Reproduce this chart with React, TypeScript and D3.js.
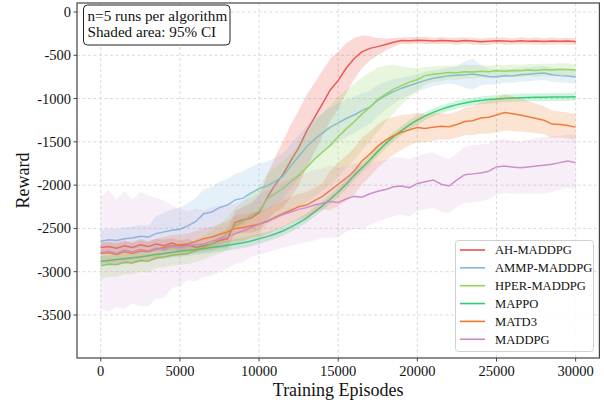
import React from "react";
import * as d3 from "d3";

const episodes: number[] = d3.range(0, 30001, 500);
const xTicks = [0, 5000, 10000, 15000, 20000, 25000, 30000];
const yTicks = [0, -500, -1000, -1500, -2000, -2500, -3000, -3500];
const seriesNames = ["AH-MADDPG", "AMMP-MADDPG", "HPER-MADDPG", "MAPPO", "MATD3", "MADDPG"];
const seriesColors = ["#e8534a", "#82b6e0", "#93d35a", "#2ecc71", "#f0762f", "#c98ac9"];

const ahMean = [-2720,-2710,-2730,-2700,-2720,-2690,-2710,-2680,-2700,-2670,-2700,-2690,-2720,-2700,-2680,-2640,-2620,-2430,-2400,-2380,-2320,-2150,-2000,-1880,-1720,-1570,-1380,-1220,-1060,-900,-790,-650,-540,-460,-420,-400,-375,-350,-330,-332,-325,-330,-335,-328,-332,-338,-330,-336,-345,-338,-332,-335,-340,-333,-337,-335,-340,-334,-338,-336,-340];
const ahCI = [60,60,70,60,60,70,60,60,70,60,60,70,60,70,80,90,110,130,150,170,200,260,320,380,420,430,420,400,380,360,330,290,240,190,140,100,70,50,35,40,35,40,35,40,35,40,35,40,35,40,35,40,35,40,35,40,35,40,35,40,35];

const ammpMean = [-2650,-2630,-2640,-2620,-2610,-2590,-2600,-2560,-2540,-2520,-2510,-2470,-2420,-2330,-2310,-2260,-2230,-2170,-2150,-2090,-2040,-2010,-1960,-1900,-1780,-1670,-1560,-1470,-1400,-1330,-1280,-1230,-1190,-1140,-1100,-1020,-965,-920,-880,-850,-820,-790,-765,-750,-735,-730,-725,-715,-730,-745,-750,-735,-740,-725,-720,-710,-705,-725,-735,-740,-750];
const ammpCI = [130,130,130,130,130,130,130,200,220,240,250,260,270,280,290,300,300,300,310,300,290,280,270,260,250,250,240,240,230,230,220,220,210,200,190,180,160,140,120,110,100,100,90,90,90,110,150,180,120,90,90,80,80,80,80,80,80,80,80,80,80];

const hperMean = [-2930,-2910,-2920,-2890,-2900,-2870,-2880,-2840,-2830,-2810,-2800,-2790,-2760,-2720,-2680,-2620,-2560,-2470,-2420,-2350,-2300,-2160,-2100,-2040,-1960,-1890,-1800,-1700,-1620,-1540,-1440,-1350,-1270,-1180,-1100,-1010,-950,-890,-850,-810,-780,-735,-720,-710,-700,-702,-690,-692,-685,-690,-680,-685,-675,-680,-670,-675,-665,-670,-660,-665,-670];
const hperCI = [150,150,140,140,130,130,130,120,120,120,120,120,130,140,150,170,190,210,230,250,270,290,300,310,320,350,400,430,450,460,460,450,440,420,400,370,330,280,220,170,130,100,90,90,80,80,80,80,70,70,70,70,70,70,70,70,70,70,70,70,70];

const mappoMean = [-2880,-2870,-2860,-2850,-2840,-2830,-2815,-2800,-2790,-2775,-2765,-2755,-2745,-2735,-2720,-2710,-2695,-2680,-2665,-2645,-2620,-2595,-2565,-2530,-2485,-2435,-2380,-2310,-2240,-2160,-2080,-1990,-1890,-1800,-1710,-1610,-1520,-1440,-1370,-1305,-1250,-1200,-1160,-1125,-1095,-1070,-1050,-1035,-1022,-1012,-1004,-998,-993,-990,-988,-986,-984,-983,-982,-981,-980];
const mappoCI = [60,60,60,60,60,60,60,60,60,60,60,60,60,60,60,60,60,60,60,60,60,55,55,55,55,55,55,55,55,55,55,55,55,55,55,55,55,55,55,55,55,45,45,45,45,45,45,45,45,45,45,45,45,45,45,45,45,45,45,45,45];

const matd3Mean = [-2790,-2780,-2800,-2770,-2790,-2760,-2770,-2740,-2720,-2700,-2690,-2680,-2650,-2620,-2600,-2570,-2540,-2500,-2490,-2470,-2450,-2420,-2370,-2330,-2290,-2250,-2230,-2180,-2130,-2060,-1990,-1920,-1840,-1720,-1640,-1550,-1480,-1430,-1390,-1360,-1335,-1345,-1330,-1320,-1325,-1300,-1265,-1255,-1225,-1215,-1190,-1160,-1175,-1190,-1210,-1230,-1250,-1295,-1300,-1310,-1330];
const matd3CI = [120,120,120,120,120,120,120,120,120,120,120,120,120,120,120,120,120,150,150,150,150,150,150,150,150,150,150,150,150,230,250,260,270,270,260,250,240,220,200,180,170,160,160,150,150,150,160,170,180,190,200,210,200,190,180,170,160,160,150,150,150];

const maddpgMean = [-2780,-2760,-2790,-2750,-2770,-2740,-2760,-2730,-2740,-2710,-2720,-2700,-2690,-2680,-2650,-2620,-2600,-2560,-2530,-2490,-2450,-2420,-2380,-2340,-2310,-2280,-2260,-2230,-2210,-2190,-2200,-2160,-2130,-2140,-2100,-2070,-2050,-2020,-2010,-2030,-1980,-1960,-1940,-1990,-2010,-1940,-1880,-1870,-1860,-1840,-1790,-1780,-1790,-1800,-1790,-1780,-1770,-1760,-1740,-1720,-1740];
const maddpgCI = [650,700,620,680,600,660,640,580,560,480,440,400,420,380,400,380,360,350,360,340,350,360,370,380,390,400,400,410,400,420,400,380,380,370,360,350,340,340,330,330,320,320,320,320,310,310,320,330,330,320,320,310,310,300,310,320,330,320,310,310,320];

const means = [ahMean, ammpMean, hperMean, mappoMean, matd3Mean, maddpgMean];
const cis = [ahCI, ammpCI, hperCI, mappoCI, matd3CI, maddpgCI];
const fillOpacities = [0.22, 0.2, 0.2, 0.22, 0.2, 0.15];

const W = 604, H = 403;
const M = { left: 77, right: 599.4, top: 3, bottom: 358 };
const FONT = "'Liberation Serif', 'Times New Roman', serif";

export default function App() {
  const x = d3.scaleLinear().domain([-1500, 31500]).range([M.left, M.right]);
  const y = d3.scaleLinear().domain([-3997, 104]).range([M.bottom, M.top]);

  const line = d3.line<number>().x((_, i) => x(episodes[i])).y((d) => y(d));

  return (
    <div>
      <style>{"body{margin:0}"}</style>
      <svg width={W} height={H} style={{ display: "block", background: "#fff" }} fontFamily={FONT}>
        <defs>
          <clipPath id="plotclip">
            <rect x={M.left} y={M.top} width={M.right - M.left} height={M.bottom - M.top} />
          </clipPath>
        </defs>
        {xTicks.map((t) => (
          <line key={"gx" + t} x1={x(t)} x2={x(t)} y1={M.top} y2={M.bottom} stroke="#d0d0d0" strokeWidth={0.8} strokeDasharray="3,2.5" />
        ))}
        {yTicks.map((t) => (
          <line key={"gy" + t} x1={M.left} x2={M.right} y1={y(t)} y2={y(t)} stroke="#d0d0d0" strokeWidth={0.8} strokeDasharray="3,2.5" />
        ))}
        <g clipPath="url(#plotclip)">
          {means.map((m, si) => {
            const ci = cis[si];
            const area = d3
              .area<number>()
              .x((_, i) => x(episodes[i]))
              .y0((d, i) => y(d - ci[i]))
              .y1((d, i) => y(d + ci[i]));
            return (
              <g key={seriesNames[si]}>
                <path d={area(m) || ""} fill={seriesColors[si]} fillOpacity={fillOpacities[si]} stroke="none" />
                <path d={line(m) || ""} fill="none" stroke={seriesColors[si]} strokeWidth={1.5} strokeOpacity={0.95} />
              </g>
            );
          })}
        </g>
        <rect x={M.left} y={M.top} width={M.right - M.left} height={M.bottom - M.top} fill="none" stroke="#444" strokeWidth={1.2} />
        {xTicks.map((t) => (
          <g key={"xt" + t}>
            <line x1={x(t)} x2={x(t)} y1={M.bottom} y2={M.bottom + 3.5} stroke="#444" strokeWidth={1} />
            <text x={x(t)} y={376} textAnchor="middle" fontSize={14.5} fill="#111">{t}</text>
          </g>
        ))}
        {yTicks.map((t) => (
          <g key={"yt" + t}>
            <line x1={M.left - 3.5} x2={M.left} y1={y(t)} y2={y(t)} stroke="#444" strokeWidth={1} />
            <text x={71} y={y(t) + 5} textAnchor="end" fontSize={14.5} fill="#111">{t === 0 ? "0" : "-" + Math.abs(t)}</text>
          </g>
        ))}
        <text x={(M.left + M.right) / 2} y={396} textAnchor="middle" fontSize={18} fill="#111">Training Episodes</text>
        <text transform={`translate(29, ${(M.top + M.bottom) / 2}) rotate(-90)`} textAnchor="middle" fontSize={18} fill="#111">Reward</text>
        <rect x={83.5} y={5} width={146.5} height={40} rx={4} fill="#fff" fillOpacity={0.85} stroke="#222" strokeWidth={1} />
        <text x={87.5} y={21} fontSize={15.2} fill="#111">n=5 runs per algorithm</text>
        <text x={87.5} y={37} fontSize={15.2} fill="#111">Shaded area: 95% CI</text>
        <rect x={455.5} y={240.5} width={138} height={111} rx={3} fill="#fff" fillOpacity={0.85} stroke="#d0d0d0" strokeWidth={1} />
        {seriesNames.map((n, i) => {
          const cy = 250 + i * 17.85;
          return (
            <g key={"lg" + n}>
              <line x1={460} x2={485} y1={cy} y2={cy} stroke={seriesColors[i]} strokeWidth={1.6} />
              <text x={495} y={cy + 4.4} fontSize={12.6} fill="#111">{n}</text>
            </g>
          );
        })}
      </svg>
    </div>
  );
}
